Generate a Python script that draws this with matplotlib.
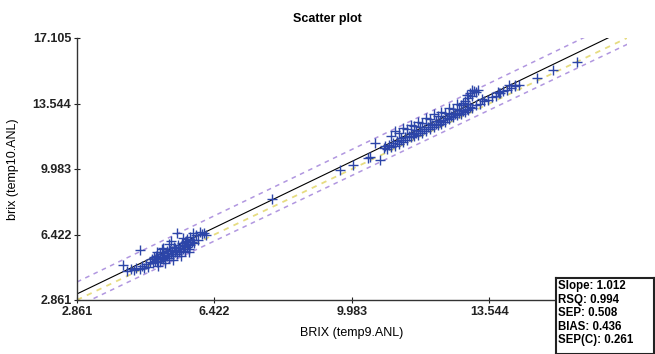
import numpy as np
import matplotlib.pyplot as plt

plt.rcParams['font.family'] = ['Liberation Sans', 'DejaVu Sans']

# axis range and tick values (both axes share them)
ticks = [2.861, 6.422, 9.983, 13.544, 17.105]

# reference brix (temp9) vs predicted brix (temp10)
# low cluster
x_low = [4.05, 4.15, 4.25, 4.33, 4.40, 4.48, 4.55, 4.60, 4.50, 4.65, 4.70,
         4.75, 4.80, 4.82, 4.88, 4.90, 4.93, 4.97, 5.00, 5.02, 5.05, 5.08,
         5.10, 5.12, 5.15, 5.18, 5.20, 5.22, 5.25, 5.28, 5.30, 5.32, 5.35,
         5.38, 5.40, 5.42, 5.45, 5.48, 5.50, 5.52, 5.55, 5.58, 5.60, 5.62,
         5.65, 5.68, 5.70, 5.73, 5.75, 5.78, 5.80, 5.83, 5.86, 5.90, 5.95,
         6.00, 6.05, 6.10, 6.15, 5.45, 5.87, 5.25, 5.05, 4.95, 5.15, 5.35,
         5.55, 5.75, 4.85, 5.40, 5.65, 5.30, 5.60, 5.10, 4.92, 5.70, 6.20]
y_low = [4.75, 4.45, 4.52, 4.48, 4.62, 4.55, 4.70, 4.62, 5.58, 4.80, 4.68,
         4.95, 5.10, 4.85, 5.00, 5.25, 4.90, 5.15, 5.35, 5.00, 5.20, 5.45,
         5.10, 5.30, 5.05, 5.55, 5.25, 5.40, 5.15, 5.60, 5.35, 5.50, 5.25,
         5.75, 5.45, 5.60, 5.35, 5.85, 5.55, 5.70, 5.45, 5.95, 5.65, 5.80,
         5.55, 6.05, 5.75, 5.90, 5.65, 6.30, 5.85, 6.00, 6.15, 5.95, 6.40,
         6.15, 6.55, 6.45, 6.50, 6.51, 6.51, 5.90, 5.65, 4.70, 4.85, 5.05,
         5.25, 5.45, 5.20, 5.70, 6.00, 6.05, 6.25, 5.70, 5.45, 6.20, 6.40]

# high cluster, lower band
x_hi = [10.80, 10.85, 10.90, 10.95, 11.00, 11.05, 11.10, 11.15, 11.20, 11.25,
        11.30, 11.35, 11.40, 11.45, 11.50, 11.55, 11.60, 11.65, 11.70, 11.75,
        11.80, 11.85, 11.90, 11.95, 12.00, 12.05, 12.10, 12.15, 12.20, 12.25,
        12.30, 12.35, 12.40, 12.45, 12.50, 12.55, 12.60, 12.65, 12.70, 12.75,
        12.80, 12.85, 12.90, 12.95, 13.00, 13.05, 13.10, 13.20, 13.30, 13.40,
        13.50, 13.60, 13.70, 13.80, 13.90, 14.00, 14.10, 14.20, 14.30, 14.05]
y_hi = [11.10, 11.25, 11.05, 11.30, 11.20, 11.40, 11.25, 11.50, 11.35, 11.55,
        11.45, 11.70, 11.55, 11.80, 11.70, 11.90, 11.80, 11.95, 11.85, 12.05,
        11.95, 12.15, 12.05, 12.25, 12.15, 12.35, 12.25, 12.45, 12.35, 12.55,
        12.45, 12.65, 12.55, 12.75, 12.70, 12.85, 12.80, 12.95, 12.90, 13.05,
        13.00, 13.15, 13.10, 13.25, 13.20, 13.35, 13.30, 13.45, 13.50, 13.70,
        13.75, 13.90, 13.95, 14.10, 14.20, 14.30, 14.40, 14.50, 14.55, 14.55]

# high cluster, upper band and fill
x_up = [11.00, 11.10, 11.20, 11.30, 11.40, 11.50, 11.60, 11.70, 11.80, 11.90,
        12.00, 12.10, 12.20, 12.30, 12.40, 12.50, 12.60, 12.70, 12.80, 12.90,
        13.00, 13.05, 13.10, 13.15, 13.20, 13.25, 12.95, 13.10, 11.50, 12.00,
        12.50, 13.00, 12.25, 12.75, 11.75, 13.77, 13.82, 14.21, 11.65, 12.15,
        12.65, 11.25, 12.85, 13.35]
y_up = [11.80, 12.05, 11.95, 12.20, 12.15, 12.40, 12.30, 12.55, 12.50, 12.75,
        12.70, 12.95, 12.85, 13.10, 13.05, 13.30, 13.25, 13.50, 13.45, 13.70,
        13.85, 14.10, 13.95, 14.25, 14.15, 14.30, 14.00, 14.30, 11.95, 12.45,
        12.95, 13.50, 12.60, 13.20, 12.25, 14.19, 14.13, 14.57, 12.10, 12.60,
        13.05, 11.65, 13.55, 13.80]

# isolated samples
x_iso = [7.92, 9.68, 10.00, 10.45, 10.71, 10.58, 10.40, 14.78, 15.20, 15.82]
y_iso = [8.36, 9.94, 10.21, 10.65, 10.48, 11.41, 10.60, 14.95, 15.38, 15.82]

slope, intercept = 1.012, 0.296
stats = ["Slope: 1.012", "RSQ: 0.994", "SEP: 0.508", "BIAS: 0.436", "SEP(C): 0.261"]

fig = plt.figure(figsize=(6.55, 3.54), dpi=100)
ax = fig.add_axes([77/655, 54/354, 550/655, 262/354])

xs = np.array([ticks[0], ticks[-1] + 1])
ax.plot(xs, xs, color='#e6dc80', lw=1.3, ls=(0, (3, 3)), zorder=1)
ax.plot(xs, slope*xs + intercept + 0.65, color='#b197e0', lw=1.1, ls=(0, (3, 3)), zorder=1)
ax.plot(xs, xs - 0.35, color='#b197e0', lw=1.1, ls=(0, (3, 3)), zorder=1)
ax.plot(xs, slope*xs + intercept, color='black', lw=0.8, zorder=2)

xall = x_low + x_hi + x_up + x_iso
yall = y_low + y_hi + y_up + y_iso
ax.plot(xall, yall, '+', color='#2c45a8', ms=6.5, mew=1.0, zorder=3)

ax.set_xlim(ticks[0], ticks[-1])
ax.set_ylim(ticks[0], ticks[-1])
ax.set_xticks(ticks[:-1])
ax.set_yticks(ticks)
ax.set_xticklabels([f"{t:.3f}" for t in ticks[:-1]], fontweight='bold', fontsize=9)
ax.set_yticklabels([f"{t:.3f}" for t in ticks], fontweight='bold', fontsize=9)
ax.tick_params(direction='inout', length=4, width=0.8, pad=2, colors='#222222')
for s in ['top', 'right']:
    ax.spines[s].set_visible(False)
for s in ['left', 'bottom']:
    ax.spines[s].set_color('#333333')
    ax.spines[s].set_linewidth(1.0)

ax.set_xlabel("BRIX (temp9.ANL)", fontsize=9, labelpad=7)
ax.set_ylabel("brix (temp10.ANL)", fontsize=9, labelpad=10)
fig.text(327/655, 1 - 19/354, "Scatter plot", ha='center', va='center',
         fontsize=9, fontweight='bold')

# statistics box
box = fig.add_axes([556/655, 0, 98/655, 76/354])
box.set_xticks([])
box.set_yticks([])
for s in box.spines.values():
    s.set_linewidth(1.5)
    s.set_color('#222222')
for i, t in enumerate(stats):
    box.text(0.02, 0.89 - i*0.178, t, transform=box.transAxes, ha='left', va='center',
             fontsize=8.3, fontweight='bold')

fig.savefig("out.png", dpi=100)
